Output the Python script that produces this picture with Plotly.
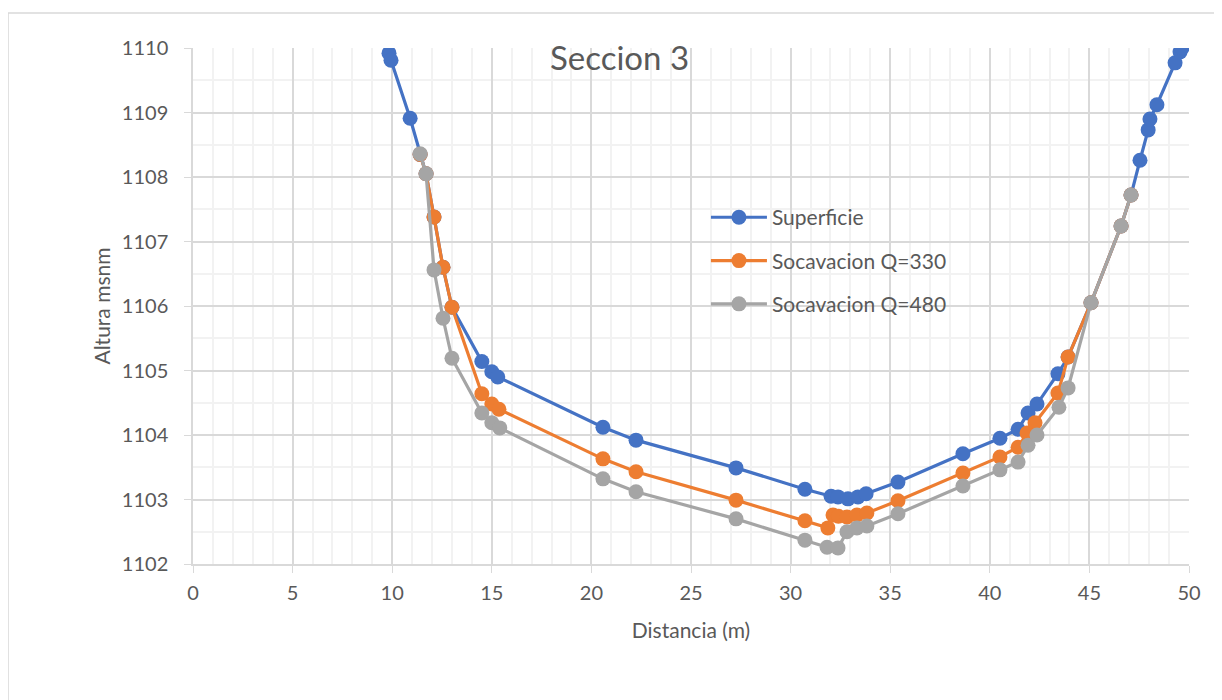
import plotly.graph_objects as go

# Perfil de la seccion 3 (distancia en m, altura en msnm)
sup_x = [9.84, 9.94, 10.9, 11.4, 11.7, 12.1, 12.55, 13.0, 14.5, 15.0, 15.3, 20.58, 22.24,
         27.26, 30.72, 32.03, 32.38, 32.88, 33.38, 33.79, 35.39, 38.65, 40.51, 41.42,
         41.92, 42.37, 43.42, 43.93, 45.08, 46.59, 47.09, 47.54, 47.95, 48.04, 48.39,
         49.3, 49.55, 49.65]
sup_y = [1109.92, 1109.81, 1108.91, 1108.35, 1108.05, 1107.38, 1106.6, 1105.98, 1105.14,
         1104.98, 1104.9, 1104.12, 1103.92, 1103.49, 1103.16, 1103.05, 1103.04, 1103.01,
         1103.04, 1103.09, 1103.27, 1103.71, 1103.95, 1104.09, 1104.34, 1104.48, 1104.95,
         1105.21, 1106.05, 1107.24, 1107.72, 1108.26, 1108.73, 1108.9, 1109.12, 1109.77,
         1109.94, 1110.0]

soc330_x = [11.4, 11.7, 12.1, 12.55, 13.0, 14.5, 15.0, 15.36, 20.58, 22.24, 27.26, 30.72,
            31.87, 32.13, 32.4, 32.83, 33.33, 33.83, 35.39, 38.65, 40.51, 41.42, 41.87,
            42.27, 43.42, 43.93, 45.08, 46.59, 47.09]
soc330_y = [1108.35, 1108.05, 1107.38, 1106.6, 1105.98, 1104.64, 1104.48, 1104.4, 1103.63,
            1103.43, 1102.99, 1102.67, 1102.56, 1102.76, 1102.74, 1102.73, 1102.76, 1102.79,
            1102.98, 1103.41, 1103.66, 1103.81, 1104.03, 1104.19, 1104.65, 1105.21, 1106.05,
            1107.24, 1107.72]

soc480_x = [11.4, 11.7, 12.1, 12.55, 13.0, 14.5, 15.0, 15.4, 20.58, 22.24, 27.26, 30.72,
            31.83, 32.38, 32.83, 33.33, 33.83, 35.39, 38.65, 40.51, 41.42, 41.92, 42.37,
            43.47, 43.93, 45.08, 46.59, 47.09]
soc480_y = [1108.36, 1108.05, 1106.56, 1105.81, 1105.19, 1104.34, 1104.19, 1104.11, 1103.32,
            1103.12, 1102.7, 1102.37, 1102.26, 1102.25, 1102.5, 1102.56, 1102.59, 1102.78,
            1103.21, 1103.46, 1103.58, 1103.84, 1104.0, 1104.43, 1104.73, 1106.05, 1107.24,
            1107.72]

series = [
    ("Superficie", sup_x, sup_y, "#4472C4"),
    ("Socavacion Q=330", soc330_x, soc330_y, "#ED7D31"),
    ("Socavacion Q=480", soc480_x, soc480_y, "#A5A5A5"),
]

FONT = "Lato, 'Open Sans', sans-serif"
TXT = "#595959"

fig = go.Figure()
for name, xs, ys, color in series:
    fig.add_trace(go.Scatter(
        x=xs, y=ys, name=name, mode="lines+markers", legendgroup=name,
        line=dict(color=color, width=3.2),
        marker=dict(color=color, size=15),
    ))

axis_common = dict(
    showline=True, linecolor="#d9d9d9", linewidth=1.5,
    ticks="outside", ticklen=7, tickcolor="#d9d9d9",
    showgrid=True, gridcolor="#d9d9d9", gridwidth=1.5,
    zeroline=False, tickfont=dict(family=FONT, size=20, color=TXT),
)

fig.update_xaxes(
    range=[0, 50], dtick=5, **axis_common, ticklabelstandoff=3,
    minor=dict(dtick=1, showgrid=True, gridcolor="#f2f2f2", gridwidth=1.5),
    title=dict(text="Distancia (m)", font=dict(family=FONT, size=21, color=TXT), standoff=21),
)
fig.update_yaxes(
    range=[1102, 1110], dtick=1, **axis_common, ticklabelstandoff=12,
    minor=dict(dtick=0.5, showgrid=True, gridcolor="#f2f2f2", gridwidth=1.5),
    title=dict(text="Altura msnm", font=dict(family=FONT, size=21, color=TXT), standoff=5),
)

fig.add_annotation(
    text="Seccion 3", xref="paper", yref="paper", x=0.4287, y=0.9826,
    showarrow=False, font=dict(family=FONT, size=33, color=TXT),
    xanchor="center", yanchor="middle",
)

# borde del area del grafico
fig.add_shape(
    type="rect", xref="paper", yref="paper", x0=-0.1857, y0=-0.30, x1=1.06, y1=1.0678,
    line=dict(color="#d9d9d9", width=1.5), fillcolor="rgba(0,0,0,0)", layer="below",
)

fig.update_layout(
    width=1222, height=700,
    margin=dict(l=185, r=41, t=40, b=144),
    paper_bgcolor="white", plot_bgcolor="white",
    font=dict(family=FONT, color=TXT),
    legend=dict(
        x=0.515, y=0.711, xanchor="left", yanchor="top",
        bgcolor="rgba(0,0,0,0)", tracegroupgap=13, itemwidth=56,
        font=dict(family=FONT, size=21, color=TXT),
    ),
)

fig.write_html("out.html")
